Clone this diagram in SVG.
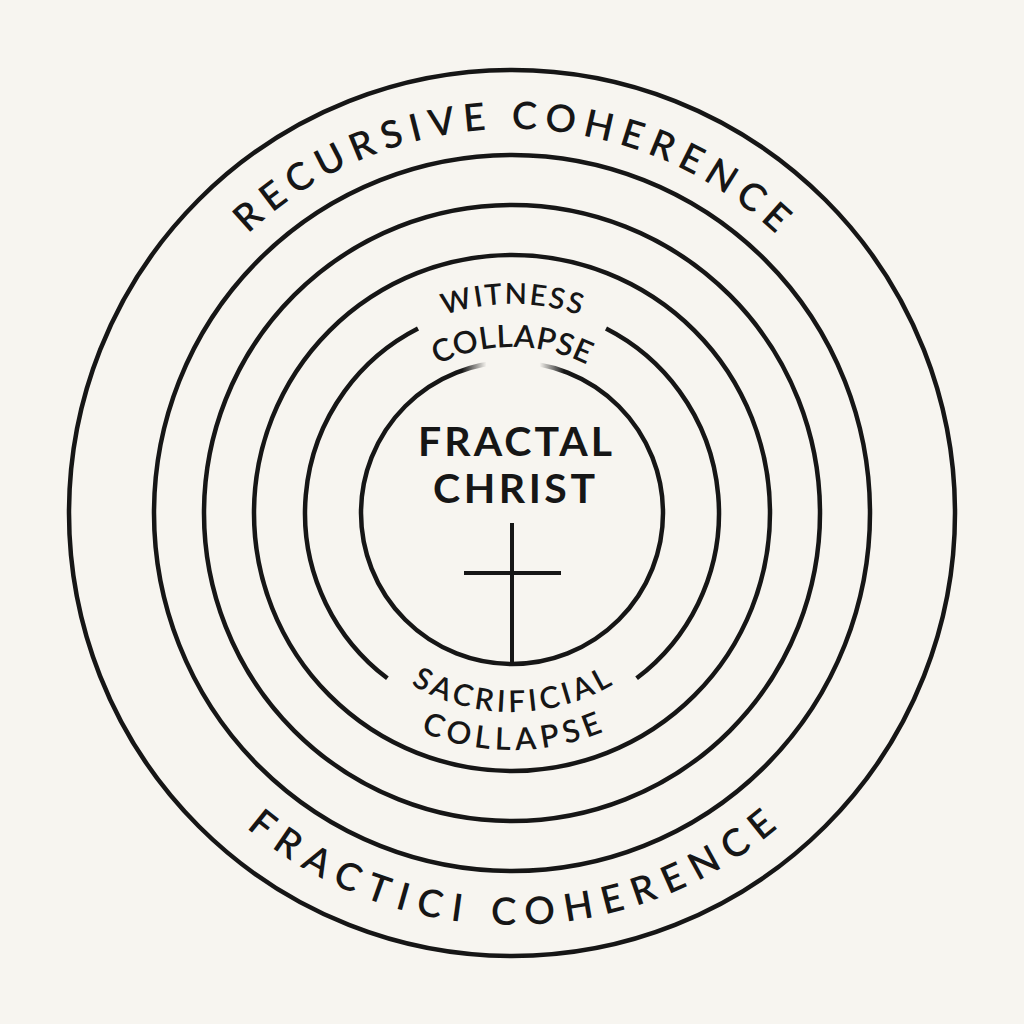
<svg xmlns="http://www.w3.org/2000/svg" xmlns:xlink="http://www.w3.org/1999/xlink" width="1024" height="1024" viewBox="0 0 1024 1024">
  <style>
    .ring { fill: none; stroke: #161616; stroke-width: 4.5; }
    .line { stroke: #161616; stroke-width: 4; fill: none; }
    .lbl { font-family: Lato, "Open Sans", "Liberation Sans", sans-serif; fill: #161616; font-weight: 600; }
    .title { font-family: Lato, "Open Sans", "Liberation Sans", sans-serif; fill: #161616; font-weight: 700; font-size: 41px; }
  </style>
  <defs>
    <path id="pTopOuter" d="M 128 513 A 384 384 0 0 1 896 513"/>
    <path id="pBotOuter" d="M 100 513 A 412 412 0 0 0 924 513"/>
    <path id="pWitness" d="M 303 513 A 209 209 0 0 1 721 513"/>
    <path id="pCollTop" d="M 346 513 A 166 166 0 0 1 678 513"/>
    <path id="pSacr" d="M 313 513 A 199 199 0 0 0 711 513"/>
    <path id="pCollBot" d="M 275 513 A 237 237 0 0 0 749 513"/>
    <linearGradient id="fade" gradientUnits="userSpaceOnUse" x1="462" y1="0" x2="564" y2="0">
      <stop offset="0" stop-color="#fff"/>
      <stop offset="0.24" stop-color="#000"/>
      <stop offset="0.76" stop-color="#000"/>
      <stop offset="1" stop-color="#fff"/>
    </linearGradient>
    <mask id="innerGap" maskUnits="userSpaceOnUse" x="0" y="0" width="1024" height="1024">
      <rect x="0" y="0" width="1024" height="1024" fill="#fff"/>
      <rect x="462" y="345" width="102" height="35" fill="url(#fade)"/>
    </mask>
  </defs>
  <rect x="0" y="0" width="1024" height="1024" fill="#f7f5f0"/>

  <g id="ring-outer">
    <circle class="ring" cx="512" cy="513" r="443"/>
    <text class="lbl" font-size="38"><textPath xlink:href="#pTopOuter" href="#pTopOuter" startOffset="50%" text-anchor="middle" textLength="582" lengthAdjust="spacing">RECURSIVE COHERENCE</textPath></text>
    <text class="lbl" font-size="38"><textPath xlink:href="#pBotOuter" href="#pBotOuter" startOffset="50%" text-anchor="middle" textLength="578" lengthAdjust="spacing">FRACTICI COHERENCE</textPath></text>
  </g>
  <g id="ring-2">
    <circle class="ring" cx="512" cy="513" r="358"/>
  </g>
  <g id="ring-3">
    <circle class="ring" cx="512" cy="513" r="308"/>
  </g>
  <g id="ring-4">
    <circle class="ring" cx="512" cy="513" r="258"/>
  </g>
  <g id="ring-collapse">
    <path class="ring" d="M 606.0 328.6 A 207 207 0 0 1 636.6 678.3"/>
    <path class="ring" d="M 387.4 678.3 A 207 207 0 0 1 418.0 328.6"/>
    <text class="lbl" font-size="29"><textPath xlink:href="#pWitness" href="#pWitness" startOffset="50%" text-anchor="middle" textLength="138" lengthAdjust="spacing">WITNESS</textPath></text>
    <text class="lbl" font-size="31"><textPath xlink:href="#pCollTop" href="#pCollTop" startOffset="50%" text-anchor="middle" textLength="155" lengthAdjust="spacing">COLLAPSE</textPath></text>
    <text class="lbl" font-size="30"><textPath xlink:href="#pSacr" href="#pSacr" startOffset="50%" text-anchor="middle" textLength="212" lengthAdjust="spacing">SACRIFICIAL</textPath></text>
    <text class="lbl" font-size="31"><textPath xlink:href="#pCollBot" href="#pCollBot" startOffset="50%" text-anchor="middle" textLength="188" lengthAdjust="spacing">COLLAPSE</textPath></text>
  </g>
  <g id="fractal-christ">
    <circle class="ring" cx="512" cy="513" r="151" mask="url(#innerGap)"/>
    <text class="title" x="515" y="456" text-anchor="middle" textLength="194" lengthAdjust="spacing">FRACTAL</text>
    <text class="title" x="514" y="503" text-anchor="middle" textLength="162" lengthAdjust="spacing">CHRIST</text>
  </g>
  <g id="connectors">
    <line class="line" x1="512" y1="523" x2="512" y2="664"/>
    <line class="line" x1="464" y1="573" x2="561" y2="573"/>
  </g>
</svg>
